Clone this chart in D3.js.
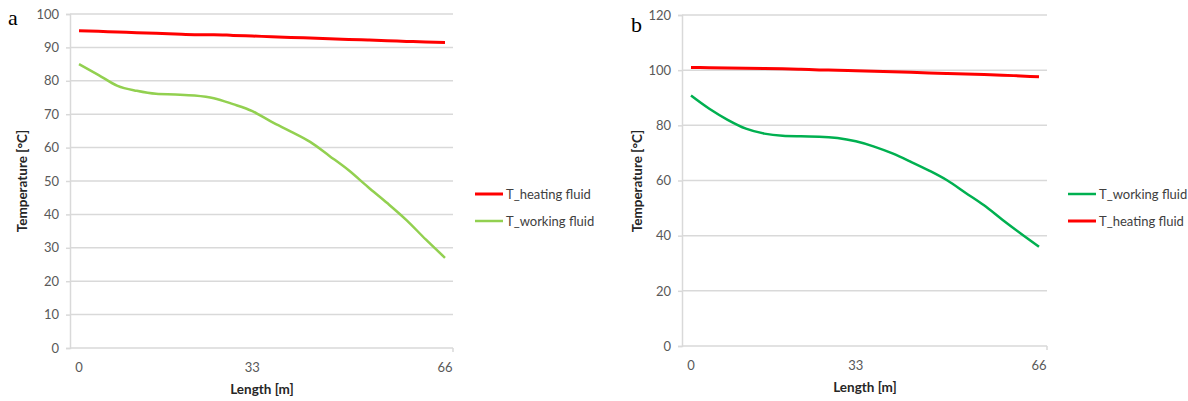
<!DOCTYPE html>
<html>
<head>
<meta charset="utf-8">
<script src="https://cdn.jsdelivr.net/npm/d3@7"></script>
<style>
  body { margin: 0; background: #fff; }
  svg { display: block; }
</style>
</head>
<body>
<div id="svgWrapper"></div>
<script>
// category axis: 20 points along the pipe, only some are labelled
var xTickIdx = [0, 9, 19];
var xTickLabels = ["0", "33", "66"];

// panel a
var heatingA = [95.0, 94.8, 94.6, 94.4, 94.2, 94.0, 93.8, 93.8, 93.6, 93.4,
                93.2, 93.0, 92.8, 92.6, 92.4, 92.2, 92.0, 91.8, 91.6, 91.5];
var workingA = [85.0, 81.8, 78.5, 77.0, 76.1, 75.9, 75.6, 74.8, 73.0, 70.9,
                67.7, 64.8, 61.7, 57.5, 53.2, 48.2, 43.4, 38.3, 32.5, 27.0];
var yTicksA = [0, 10, 20, 30, 40, 50, 60, 70, 80, 90, 100];

// panel b
var heatingB = [101.0, 100.9, 100.8, 100.7, 100.6, 100.5, 100.3, 100.1, 100.0, 99.8,
                99.6, 99.4, 99.2, 99.0, 98.8, 98.6, 98.4, 98.2, 97.9, 97.6];
var workingB = [90.8, 86.0, 82.0, 78.8, 77.0, 76.2, 76.0, 75.9, 75.4, 74.2,
                72.3, 69.8, 66.8, 63.6, 60.0, 55.5, 51.0, 45.8, 40.8, 36.0];
var yTicksB = [0, 20, 40, 60, 80, 100, 120];

var svg = d3.select("#svgWrapper").append("svg")
  .attr("width", 1188).attr("height", 401);

function drawPanel(p) {
  var g = svg.append("g");

  var xScale = d3.scaleLinear().domain([0, 19]).range([p.x0, p.x1]);
  var yScale = d3.scaleLinear().domain([0, p.ymax]).range([p.yb, p.yt]);

  // gridlines
  g.selectAll("line.grid").data(p.yTicks.filter(function(d) { return d > 0; }))
    .enter().append("line")
    .attr("x1", p.left).attr("x2", p.right)
    .attr("y1", function(d) { return yScale(d); })
    .attr("y2", function(d) { return yScale(d); })
    .attr("stroke", "#d9d9d9").attr("stroke-width", 1.5);

  // y axis
  var yAxis = g.append("g")
    .attr("transform", "translate(" + p.left + ",0)")
    .call(d3.axisLeft(yScale).tickValues(p.yTicks).tickSize(4).tickPadding(7));
  yAxis.select(".domain").attr("stroke", "#d9d9d9").attr("stroke-width", 1.5);
  yAxis.selectAll(".tick line").attr("stroke", "#d9d9d9").attr("stroke-width", 1.5);
  yAxis.selectAll("text").attr("fill", "#595959")
    .style("font-family", "Lato, sans-serif").style("font-size", "13px");

  // x axis line
  g.append("line")
    .attr("x1", p.left).attr("x2", p.right)
    .attr("y1", p.yb).attr("y2", p.yb)
    .attr("stroke", "#d9d9d9").attr("stroke-width", 1.5);
  g.append("line")
    .attr("x1", p.right).attr("x2", p.right)
    .attr("y1", p.yb).attr("y2", p.yb + 4)
    .attr("stroke", "#d9d9d9").attr("stroke-width", 1.5);

  g.selectAll("text.xt").data(xTickIdx).enter().append("text")
    .attr("x", function(d) { return xScale(d); })
    .attr("y", p.yb + 24)
    .attr("text-anchor", "middle")
    .attr("fill", "#595959")
    .style("font-family", "Lato, sans-serif").style("font-size", "13px")
    .text(function(d, i) { return xTickLabels[i]; });

  // axis titles
  g.append("text")
    .attr("x", p.xTitleX).attr("y", p.yb + 46)
    .attr("text-anchor", "middle")
    .style("font-family", "Lato, sans-serif").style("font-size", "13.5px")
    .style("font-weight", "bold").attr("fill", "#262626")
    .text("Length [m]");
  g.append("text")
    .attr("transform", "translate(" + p.yTitleX + ",181) rotate(-90)")
    .attr("text-anchor", "middle")
    .style("font-family", "Lato, sans-serif").style("font-size", "13.5px")
    .style("font-weight", "bold").attr("fill", "#262626")
    .text("Temperature [°C]");

  // panel letter
  g.append("text")
    .attr("x", p.letterX).attr("y", p.letterY)
    .style("font-family", "'Liberation Serif', serif").style("font-size", "22px")
    .text(p.letter);

  var line = d3.line()
    .x(function(d, i) { return xScale(i); })
    .y(function(d) { return yScale(d); })
    .curve(d3.curveMonotoneX);

  p.series.forEach(function(s, k) {
    g.append("path")
      .attr("d", line(s.values))
      .attr("fill", "none")
      .attr("stroke", s.color)
      .attr("stroke-width", s.width)
      .attr("stroke-linejoin", "round");

    var ly = p.legendY + k * 27;
    g.append("line")
      .attr("x1", p.legendX).attr("x2", p.legendX + 28)
      .attr("y1", ly).attr("y2", ly)
      .attr("stroke", s.color).attr("stroke-width", s.width);
    g.append("text")
      .attr("x", p.legendX + 31).attr("y", ly + 4.5)
      .attr("fill", "#404040")
      .style("font-family", "Lato, sans-serif").style("font-size", "13px")
      .text(s.name);
  });
}

drawPanel({
  letter: "a", letterX: 8, letterY: 25,
  left: 70, right: 453, x0: 79, x1: 445,
  yb: 348, yt: 14, ymax: 100, yTicks: yTicksA,
  xTitleX: 262, yTitleX: 27,
  legendX: 475, legendY: 194,
  series: [
    { name: "T_heating fluid", values: heatingA, color: "#ff0000", width: 3 },
    { name: "T_working fluid", values: workingA, color: "#92d050", width: 2.5 }
  ]
});

drawPanel({
  letter: "b", letterX: 631, letterY: 32,
  left: 682, right: 1047, x0: 691, x1: 1039,
  yb: 346, yt: 15, ymax: 120, yTicks: yTicksB,
  xTitleX: 865, yTitleX: 642,
  legendX: 1068, legendY: 194,
  series: [
    { name: "T_working fluid", values: workingB, color: "#00b050", width: 2.5 },
    { name: "T_heating fluid", values: heatingB, color: "#ff0000", width: 3 }
  ]
});
</script>
</body>
</html>
